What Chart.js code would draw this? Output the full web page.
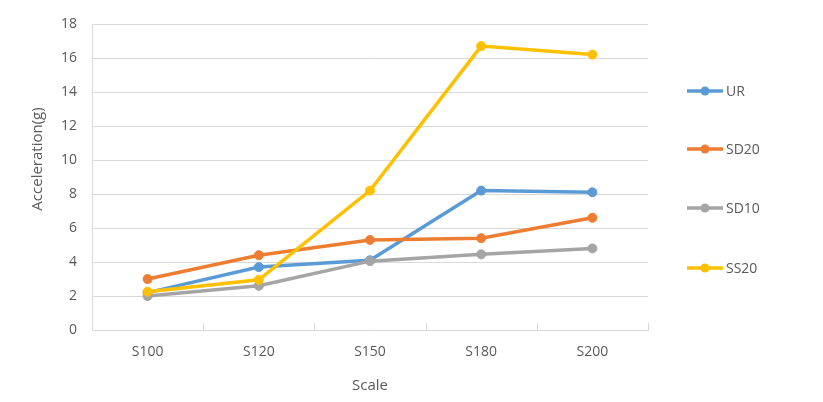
<!DOCTYPE html>
<html>
<head>
<meta charset="utf-8">
<script src="https://cdn.jsdelivr.net/npm/chart.js@4.4.0/dist/chart.umd.min.js"></script>
<style>
  html, body { margin: 0; padding: 0; background: #fff; }
</style>
</head>
<body>
<canvas id="accChart" width="823" height="402"></canvas>
<script>
// data
const scaleLabels = ['S100', 'S120', 'S150', 'S180', 'S200'];
const seriesNames = ['UR', 'SD20', 'SD10', 'SS20'];
const urValues   = [2.2, 3.7, 4.1, 8.2, 8.1];
const sd20Values = [3.0, 4.4, 5.3, 5.4, 6.6];
const sd10Values = [2.0, 2.6, 4.05, 4.45, 4.8];
const ss20Values = [2.25, 2.95, 8.2, 16.7, 16.2];
const yMin = 0, yMax = 18, yStep = 2;

const colors = ['#5B9BD5', '#ED7D31', '#A5A5A5', '#FFC000'];
const textColor = '#595959';
const gridColor = '#d9d9d9';
const fontFamily = '"Open Sans", "Noto Sans", sans-serif';

const allValues = [urValues, sd20Values, sd10Values, ss20Values];

const datasets = allValues.map((vals, i) => ({
  label: seriesNames[i],
  data: vals,
  borderColor: colors[i],
  backgroundColor: colors[i],
  borderWidth: 3.5,
  pointRadius: 4.5,
  pointBorderWidth: 1,
  pointBackgroundColor: colors[i],
  pointBorderColor: colors[i],
  tension: 0,
  order: allValues.length - i   // later series drawn on top, like Excel
}));

// titles, right legend and the little upward tick marks on the x axis
const extrasPlugin = {
  id: 'extras',
  afterDraw(chart) {
    const ctx = chart.ctx;
    const area = chart.chartArea;
    const xs = chart.scales.x;

    ctx.save();
    // tick marks between categories
    ctx.strokeStyle = gridColor;
    ctx.lineWidth = 1;
    for (let i = 0; i < scaleLabels.length; i++) {
      const px = Math.round(xs.getPixelForValue(i + 0.5)) + 0.5;
      ctx.beginPath();
      ctx.moveTo(px, area.bottom);
      ctx.lineTo(px, area.bottom - 7);
      ctx.stroke();
    }

    // axis titles
    ctx.fillStyle = textColor;
    ctx.font = '15px ' + fontFamily;
    ctx.textAlign = 'center';
    ctx.textBaseline = 'middle';
    ctx.fillText('Scale', (area.left + area.right) / 2, 386);

    ctx.save();
    ctx.translate(38, 159);
    ctx.rotate(-Math.PI / 2);
    ctx.fillText('Acceleration(g)', 0, 0);
    ctx.restore();

    // legend
    ctx.font = '14px ' + fontFamily;
    ctx.textAlign = 'left';
    const legendY = [91, 149, 208, 268];
    chart.data.datasets.forEach((ds, i) => {
      const y = legendY[i];
      ctx.strokeStyle = ds.borderColor;
      ctx.lineWidth = 3.5;
      ctx.beginPath();
      ctx.moveTo(687, y);
      ctx.lineTo(723, y);
      ctx.stroke();
      ctx.fillStyle = ds.borderColor;
      ctx.beginPath();
      ctx.arc(705, y, 4.5, 0, Math.PI * 2);
      ctx.fill();
      ctx.fillStyle = textColor;
      ctx.fillText(ds.label, 726, y + 1);
    });
    ctx.restore();
  }
};

new Chart(document.getElementById('accChart'), {
  type: 'line',
  data: { labels: scaleLabels, datasets: datasets },
  options: {
    responsive: false,
    animation: false,
    layout: { padding: { left: 0, top: 24, right: 175, bottom: 0 } },
    plugins: {
      legend: { display: false },
      tooltip: { enabled: false }
    },
    scales: {
      x: {
        offset: true,
        grid: { display: false, drawTicks: false },
        border: { color: gridColor, width: 1 },
        ticks: {
          color: textColor,
          font: { family: fontFamily, size: 14 },
          padding: 14,
          maxRotation: 0
        },
        afterFit(scale) { scale.height = 72; }
      },
      y: {
        min: yMin,
        max: yMax,
        grid: { color: gridColor, drawTicks: false, lineWidth: 1 },
        border: { color: gridColor, width: 1 },
        ticks: {
          stepSize: yStep,
          color: textColor,
          font: { family: fontFamily, size: 14 },
          padding: 15
        },
        afterFit(scale) { scale.width = 92; }
      }
    }
  },
  plugins: [extrasPlugin]
});
</script>
</body>
</html>
